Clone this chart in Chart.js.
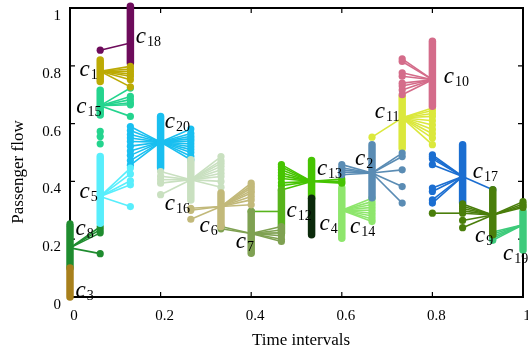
<!DOCTYPE html>
<html>
<head>
<meta charset="utf-8">
<script src="https://cdn.jsdelivr.net/npm/chart.js@4.4.0/dist/chart.umd.min.js"></script>
<style>
  html, body { margin: 0; padding: 0; background: #fff; }
</style>
</head>
<body>
<canvas id="flowChart" width="528" height="352"></canvas>
<script>
// time interval positions (16 slots on a 0..1 axis)
const timeSlots = [0, 0.0667, 0.1333, 0.2, 0.2667, 0.3333, 0.4, 0.4667,
                   0.5333, 0.6, 0.6667, 0.7333, 0.8, 0.8667, 0.9333, 1];
const xTicks = [0, 0.2, 0.4, 0.6, 0.8, 1];
const yTicks = [0, 0.2, 0.4, 0.6, 0.8, 1];

const clusterNames = ['1', '2', '3', '4', '5', '6', '7', '8', '9', '10',
                      '11', '12', '13', '14', '15', '16', '17', '18', '19', '20'];
const clusterColors = ['#bcaa04', '#5a8cb4', '#a8801c', '#0b2a0b', '#58eefc',
                       '#c2b97a', '#7fa152', '#1f8c2f', '#4a7e0b', '#d46c8a',
                       '#dbe83c', '#58b41c', '#46c402', '#8ee66c', '#24d48e',
                       '#c9e0c0', '#1b6ed1', '#6d0b5b', '#3ecb7b', '#19bff0'];
const clusterSlot = [1, 10, 0, 8, 1, 5, 6, 0, 14, 12, 11, 7, 8, 9, 1, 4, 13, 2, 15, 3];

// vertical spread of members at the cluster's own time slot
const columnLow  = [0.746, 0.343, 0.0, 0.215, 0.255, 0.244, 0.151, 0.10, 0.215, 0.66,
                    0.515, 0.221, 0.342, 0.203, 0.63, 0.336, 0.325, 0.81, 0.163, 0.446];
const columnHigh = [0.82, 0.527, 0.10, 0.342, 0.486, 0.36, 0.296, 0.245, 0.371, 0.885,
                    0.694, 0.37, 0.472, 0.377, 0.715, 0.475, 0.527, 1.006, 0.296, 0.625];
const hubValue   = [0.781, 0.429, null, null, 0.348, 0.313, 0.22, 0.17, 0.284, 0.752,
                    0.62, 0.296, 0.40, 0.30, 0.662, 0.406, 0.417, 0.879, 0.25, 0.536];

// flows to the previous / next time slot
const leftEnds = [
  [],
  [0.458, 0.447, 0.44, 0.432, 0.423],
  [],
  [],
  [],
  [0.307, 0.3, 0.269],
  [0.244, 0.236],
  [],
  [0.322, 0.314, 0.306, 0.298, 0.29, 0.265, 0.24],
  [0.824, 0.815, 0.776, 0.764, 0.74, 0.73, 0.716, 0.70],
  [0.553],
  [0.296],
  [0.458, 0.45, 0.44, 0.43, 0.42, 0.41, 0.395, 0.385, 0.37],
  [],
  [],
  [0.434, 0.418, 0.406, 0.394, 0.354],
  [0.492, 0.485, 0.478, 0.458, 0.377, 0.365, 0.336, 0.325],
  [0.854],
  [0.225, 0.218, 0.21, 0.203, 0.196],
  [0.59, 0.576, 0.562, 0.55, 0.538, 0.522, 0.505, 0.49, 0.472, 0.456]
];
const rightEnds = [
  [0.798, 0.789, 0.781, 0.772, 0.764, 0.752, 0.727],
  [0.498, 0.486, 0.44, 0.382, 0.325],
  [],
  [],
  [0.446, 0.426, 0.402, 0.388, 0.313],
  [0.394, 0.385, 0.377, 0.368, 0.36, 0.348, 0.336, 0.319],
  [0.244, 0.232, 0.222, 0.212, 0.2, 0.192],
  [0.243, 0.233, 0.222, 0.15],
  [0.33, 0.322, 0.315, 0.31],
  [],
  [0.654, 0.645, 0.635, 0.625, 0.61, 0.595, 0.58, 0.565, 0.55, 0.527],
  [],
  [0.408, 0.40, 0.394],
  [0.342, 0.33, 0.32, 0.31, 0.3, 0.29, 0.28, 0.27, 0.261],
  [0.723, 0.694, 0.683, 0.672, 0.665, 0.625],
  [0.486, 0.472, 0.463, 0.452, 0.44, 0.428, 0.417, 0.4, 0.38],
  [0.371],
  [],
  [],
  [0.581, 0.566, 0.556, 0.548, 0.54, 0.53, 0.52, 0.51, 0.5, 0.487, 0.475]
];
// stray members outside the main column
const extraDots = [[], [], [], [], [], [], [], [0.253], [], [],
                   [], [], [], [], [0.573, 0.555, 0.53], [], [], [], [], []];
// c9 member arriving from two slots back
const c9Tail = [[12, 0.29], [13, 0.29]];

// where each cluster name sits (data units, start of the "c")
const labelAt = [
  [0.021, 0.763], [0.629, 0.458], [0.012, 0.0], [0.551, 0.232], [0.021, 0.343],
  [0.286, 0.225], [0.366, 0.170], [0.012, 0.215], [0.894, 0.191], [0.825, 0.742],
  [0.673, 0.620], [0.478, 0.277], [0.545, 0.423], [0.618, 0.222], [0.014, 0.638],
  [0.209, 0.302], [0.889, 0.412], [0.145, 0.880], [0.956, 0.128], [0.209, 0.586]
];

const serif = "'Liberation Serif', 'Times New Roman', serif";

function segment(a, b, color) {
  return {
    data: [a, b],
    showLine: true,
    borderColor: color,
    backgroundColor: color,
    borderWidth: 1.6,
    pointRadius: [0, 3.6],
    pointBorderWidth: 0,
    clip: false
  };
}

const datasets = [];
clusterNames.forEach((name, i) => {
  const color = clusterColors[i];
  const k = clusterSlot[i];
  const x = timeSlots[k];

  datasets.push({
    data: [{ x: x, y: columnLow[i] }, { x: x, y: columnHigh[i] }],
    showLine: true,
    borderColor: color,
    borderWidth: 7.5,
    borderCapStyle: 'round',
    pointRadius: 0,
    clip: false
  });

  if (hubValue[i] !== null) {
    const hub = { x: x, y: hubValue[i] };
    leftEnds[i].forEach(v => datasets.push(segment(hub, { x: timeSlots[k - 1], y: v }, color)));
    rightEnds[i].forEach(v => datasets.push(segment(hub, { x: timeSlots[k + 1], y: v }, color)));
  }

  if (extraDots[i].length) {
    datasets.push({
      data: extraDots[i].map(v => ({ x: x, y: v })),
      showLine: false,
      backgroundColor: color,
      pointRadius: 3.6,
      pointBorderWidth: 0,
      clip: false
    });
  }
});
datasets.push(segment({ x: timeSlots[c9Tail[1][0]], y: c9Tail[1][1] },
                      { x: timeSlots[c9Tail[0][0]], y: c9Tail[0][1] }, clusterColors[8]));

const framePlugin = {
  id: 'frame',
  beforeDatasetsDraw(chart) {
    const { ctx, chartArea: a, scales: { x, y } } = chart;
    ctx.save();
    ctx.strokeStyle = '#000';
    ctx.lineWidth = 2;
    ctx.strokeRect(a.left, a.top, a.right - a.left, a.bottom - a.top);
    ctx.lineWidth = 1.2;
    ctx.beginPath();
    xTicks.forEach(v => {
      const px = x.getPixelForValue(v);
      ctx.moveTo(px, a.bottom); ctx.lineTo(px, a.bottom - 5);
      ctx.moveTo(px, a.top); ctx.lineTo(px, a.top + 5);
    });
    yTicks.forEach(v => {
      const py = y.getPixelForValue(v);
      ctx.moveTo(a.left, py); ctx.lineTo(a.left + 5, py);
      ctx.moveTo(a.right, py); ctx.lineTo(a.right - 5, py);
    });
    ctx.stroke();
    ctx.restore();
  },
  afterDatasetsDraw(chart) {
    const { ctx, scales: { x, y } } = chart;
    ctx.save();
    ctx.fillStyle = '#000';
    ctx.textBaseline = 'alphabetic';
    clusterNames.forEach((name, i) => {
      const px = x.getPixelForValue(labelAt[i][0]);
      const py = y.getPixelForValue(labelAt[i][1]);
      ctx.font = 'italic 23px ' + serif;
      ctx.textAlign = 'left';
      ctx.fillText('c', px, py);
      const w = ctx.measureText('c').width;
      ctx.font = '14px ' + serif;
      ctx.fillText(name, px + w + 1, py + 3);
    });
    // axis titles
    ctx.font = '17px ' + serif;
    ctx.textAlign = 'center';
    ctx.textBaseline = 'middle';
    ctx.fillText('Time intervals', 301, 341);
    ctx.translate(19, 172);
    ctx.rotate(-Math.PI / 2);
    ctx.fillText('Passenger flow', 0, 0);
    ctx.restore();
  }
};

const fmt = v => String(Math.round(v * 10) / 10);
const noPad = s => { s.paddingLeft = 0; s.paddingRight = 0; s.paddingTop = 0; s.paddingBottom = 0; };

new Chart(document.getElementById('flowChart').getContext('2d'), {
  type: 'scatter',
  data: { datasets: datasets },
  options: {
    responsive: false,
    animation: false,
    devicePixelRatio: 1,
    events: [],
    layout: { padding: { left: 0, right: 5, top: 8, bottom: 0 } },
    plugins: { legend: { display: false }, tooltip: { enabled: false } },
    scales: {
      x: {
        type: 'linear',
        min: 0,
        max: 1,
        afterBuildTicks: s => { s.ticks = xTicks.map(v => ({ value: v })); },
        afterFit: s => { s.height = 55; noPad(s); },
        grid: { display: false, drawTicks: false },
        border: { display: false },
        ticks: {
          color: '#000',
          font: { family: serif, size: 15 },
          padding: 10,
          labelOffset: 4,
          maxRotation: 0,
          callback: fmt
        }
      },
      y: {
        type: 'linear',
        min: 0,
        max: 1,
        afterBuildTicks: s => { s.ticks = yTicks.map(v => ({ value: v })); },
        afterFit: s => { s.width = 70; noPad(s); },
        grid: { display: false, drawTicks: false },
        border: { display: false },
        ticks: {
          color: '#000',
          font: { family: serif, size: 15 },
          padding: 9,
          labelOffset: 8,
          callback: fmt
        }
      }
    }
  },
  plugins: [framePlugin]
});
</script>
</body>
</html>
